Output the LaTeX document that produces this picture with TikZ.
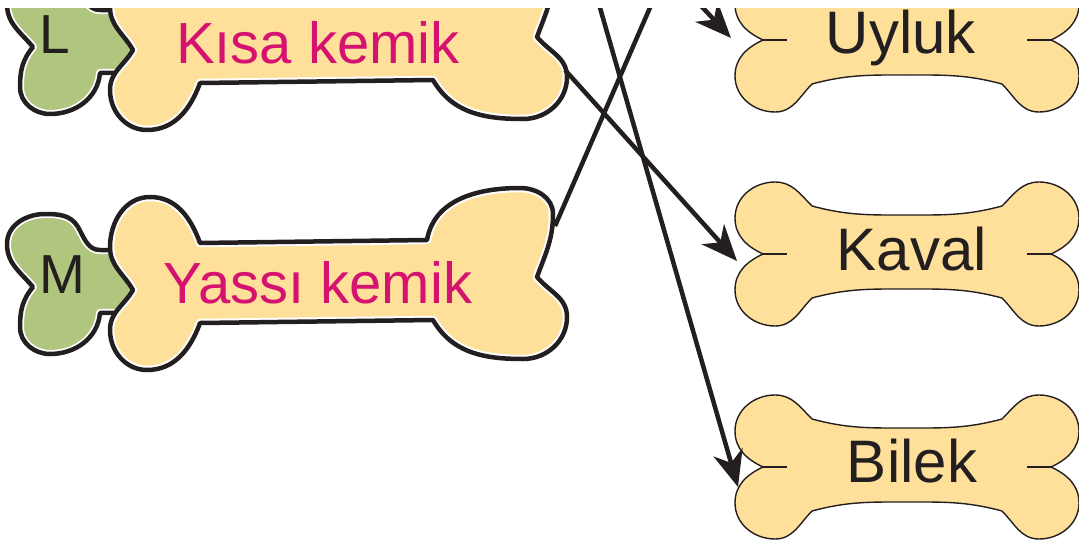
\documentclass[tikz,border=0pt]{standalone}
\usepackage{fontspec}
\setmainfont{Liberation Sans}
\usetikzlibrary{arrows.meta}
\definecolor{bonetan}{RGB}{254,224,154}
\definecolor{bonegreen}{RGB}{176,197,126}
\definecolor{kemikpink}{RGB}{214,18,112}
\definecolor{inkblack}{RGB}{35,31,32}
% bone outlines, centred on the bone (1 unit = 1px)
\def\tanpath{(-207,-8) to[out=120,in=-90] (-230,35) to[out=90,in=180] (-190,85)
 to[out=0,in=110] (-140,39) -- (87,42) to[out=80,in=180] (180,94) to[out=0,in=90] (213,68)
 to[out=-90,in=70] (197,5) to[out=-50,in=90] (227,-35) to[out=-90,in=0] (183,-77)
 to[out=180,in=-60] (93,-38) -- (-140,-41) to[out=-110,in=0] (-193,-88)
 to[out=180,in=-90] (-230,-48) to[out=90,in=-120] (-207,-8) -- cycle}
\def\greenpath{(-307,-5) to[out=130,in=-90] (-333,38) to[out=90,in=180] (-295,68)
 to[out=0,in=120] (-262,55) to[out=-60,in=180] (-240,32) -- (-180,32) -- (-180,-30)
 -- (-240,-31) to[out=-95,in=0] (-290,-72) to[out=180,in=-90] (-320,-45)
 to[out=90,in=-130] (-307,-5) -- cycle}
\def\bonepath{(-144,0) to[out=155,in=-90] (-172,36) to[out=90,in=180] (-132,72)
 to[out=0,in=135] (-95,48) to[out=-15,in=180] (0,39) to[out=0,in=195] (95,48)
 to[out=45,in=180] (132,72) to[out=0,in=90] (172,36) to[out=-90,in=25] (144,0)
 to[out=-25,in=90] (172,-36) to[out=-90,in=0] (132,-72) to[out=180,in=-45] (95,-44)
 to[out=165,in=0] (0,-35) to[out=180,in=15] (-95,-44) to[out=-135,in=0] (-132,-72)
 to[out=180,in=-90] (-172,-36) to[out=90,in=-155] (-144,0) -- cycle}
\tikzset{
 smallbone/.style={fill=bonetan, draw=inkblack, line width=1.4pt},
 rlabel/.style={anchor=base, inner sep=0pt, text=inkblack, font=\fontsize{60}{60}\selectfont},
 llabel/.style={anchor=base, inner sep=0pt, text=kemikpink, font=\fontsize{58}{58}\selectfont},
 taglabel/.style={anchor=base, inner sep=0pt, text=inkblack, font=\fontsize{55}{55}\selectfont},
 conn/.style={line width=4.5pt, draw=inkblack},
 arr/.style={conn, -{Stealth[length=36pt,width=30pt,inset=11pt]}}
}
\begin{document}
\begin{tikzpicture}[x=1pt,y=1pt,line join=round]
 \useasboundingbox (0,0) rectangle (1079,-546);
 \clip (0,-8) rectangle (1079,-546);
 % left bones with their tags
 \foreach \nm/\word/\tg/\cy/\tgx/\tgy in {kisa/Kısa kemik/L/-42/55/-53, yassi/Yassı kemik/M/-282/62/-293}{
  \begin{scope}[shift={(340,\cy)}]
   \fill[bonegreen] \greenpath;
   \begin{scope} \clip \greenpath; \draw[white, line width=8pt] \greenpath; \end{scope}
   \draw[inkblack, line width=4.5pt] \greenpath;
   \fill[bonetan] \tanpath;
   \begin{scope} \clip \tanpath; \draw[white, line width=8.5pt] \tanpath; \end{scope}
   \draw[inkblack, line width=4.5pt] \tanpath;
  \end{scope}
  \node[taglabel] (\nm-tag) at (\tgx,\tgy) {\tg};
 }
 \node[llabel] (kisa) at (318,-63) {Kısa kemik};
 \node[llabel] (yassi) at (318,-303) {Yassı kemik};
 % right bones
 \foreach \nm/\word/\cy/\tx/\by in {uyluk/Uyluk/-40/901/-53, kaval/Kaval/-254/912/-270, bilek/Bilek/-467/912/-482}{
  \begin{scope}[shift={(907,\cy)}]
   \draw[smallbone] \bonepath;
   \draw[inkblack, line width=1.4pt] (-144,0) -- (-120,0) (120,0) -- (144,0);
  \end{scope}
  \node[rlabel] (\nm) at (\tx,\by) {\word};
 }
 % connector ends
 \coordinate (kisa-out) at (565,-70);
 \coordinate (yassi-out) at (555,-226);
 \coordinate (uyluk-in) at (731,-38);
 \coordinate (kaval-in) at (737,-261);
 \coordinate (bilek-in) at (738,-487);
 \coordinate (top-a) at (592,20);
 \coordinate (top-b) at (662,20);
 \coordinate (top-c) at (677,20);
 \draw[arr] (kisa-out) -- (kaval-in);
 \draw[conn] (yassi-out) -- (top-b);
 \draw[arr] (top-a) -- (bilek-in);
 \draw[arr] (top-c) -- (uyluk-in);
\end{tikzpicture}
\end{document}
